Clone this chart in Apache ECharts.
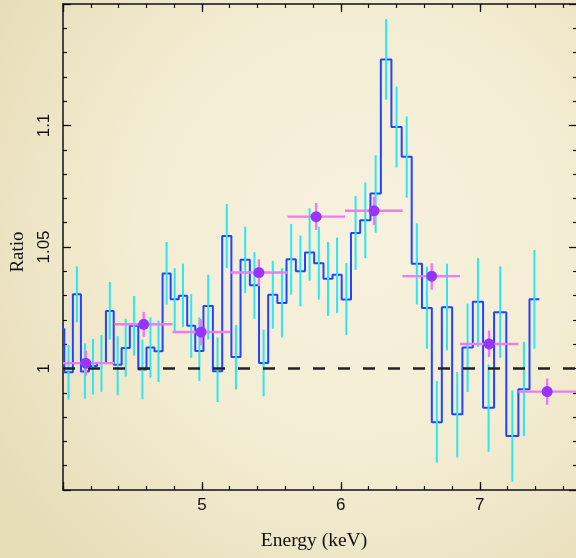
<!DOCTYPE html>
<html>
<head>
<meta charset="utf-8">
<title>Ratio vs Energy</title>
<script src="https://cdn.jsdelivr.net/npm/echarts@6/dist/echarts.min.js"></script>
<style>
  html, body { margin: 0; padding: 0; width: 576px; height: 558px; overflow: hidden; }
  body {
    background: radial-gradient(ellipse 75% 80% at 62% 42%, #f7f2df 0%, #f3edd3 50%, #ece3c3 80%, #e6dcb6 100%);
  }
  #chart { width: 576px; height: 558px; }
</style>
</head>
<body>
<div id="chart"></div>
<script>
// Fine-binned ratio spectrum: bin edges (keV), ratio per bin, and 1-sigma bounds
const binEdges = [3.950, 4.009, 4.071, 4.129, 4.187, 4.245, 4.309, 4.365, 4.422, 4.481, 4.542,
  4.601, 4.658, 4.717, 4.775, 4.833, 4.894, 4.952, 5.011, 5.079, 5.146, 5.212, 5.278, 5.345,
  5.411, 5.477, 5.543, 5.609, 5.676, 5.742, 5.808, 5.875, 5.940, 6.006, 6.073, 6.139, 6.213,
  6.288, 6.364, 6.438, 6.510, 6.584, 6.655, 6.727, 6.801, 6.875, 6.950, 7.024, 7.103, 7.191,
  7.278, 7.358, 7.429];
const binRatio = [1.0163, 0.9985, 1.0306, 0.9988, 1.0010, 1.0023, 1.0237, 1.0015, 1.0084, 1.0176,
  0.9996, 1.0086, 1.0071, 1.0391, 1.0285, 1.0299, 1.0176, 1.0072, 1.0257, 0.9989, 1.0545, 1.0047,
  1.0448, 1.0343, 1.0023, 1.0303, 1.0270, 1.0450, 1.0400, 1.0477, 1.0433, 1.0369, 1.0386, 1.0284,
  1.0558, 1.0610, 1.0720, 1.1272, 1.0994, 1.0871, 1.0431, 1.0249, 0.9779, 1.0252, 0.9812, 1.0086,
  1.0275, 0.9838, 1.0231, 0.9722, 0.9915, 1.0285];
const binLow = [1.0040, 0.9872, 1.0190, 0.9876, 0.9893, 0.9904, 1.0119, 0.9890, 0.9967, 1.0053,
  0.9874, 0.9962, 0.9944, 1.0263, 1.0153, 1.0171, 1.0044, 0.9948, 1.0119, 0.9862, 1.0413, 0.9914,
  1.0310, 1.0204, 0.9886, 1.0163, 1.0128, 1.0304, 1.0256, 1.0361, 1.0283, 1.0217, 1.0228, 1.0138,
  1.0406, 1.0454, 1.0559, 1.1106, 1.0827, 1.0703, 1.0263, 1.0081, 0.9613, 1.0075, 0.9634, 0.9903,
  1.0089, 0.9657, 1.0044, 0.9534, 0.9722, 1.0081];
const binHigh = [1.0290, 1.0096, 1.0420, 1.0103, 1.0122, 1.0138, 1.0356, 1.0133, 1.0205, 1.0298,
  1.0119, 1.0210, 1.0197, 1.0521, 1.0413, 1.0431, 1.0306, 1.0210, 1.0386, 1.0128, 1.0677, 1.0179,
  1.0584, 1.0479, 1.0160, 1.0443, 1.0413, 1.0595, 1.0547, 1.0659, 1.0584, 1.0520, 1.0539, 1.0434,
  1.0710, 1.0766, 1.0878, 1.1438, 1.1161, 1.1038, 1.0598, 1.0420, 0.9948, 1.0431, 0.9986, 1.0267,
  1.0454, 1.0016, 1.0420, 0.9910, 1.0110, 1.0488];

// Coarse-binned ratio points: energy range, centre, ratio and 1-sigma bounds
const groupLo = [3.955, 4.370, 4.788, 5.204, 5.615, 6.030, 6.444, 6.858, 7.278];
const groupHi = [4.370, 4.788, 5.204, 5.615, 6.030, 6.444, 6.858, 7.278, 7.700];
const groupE = [4.164, 4.581, 4.994, 5.410, 5.822, 6.239, 6.654, 7.067, 7.485];
const groupRatio = [1.0022, 1.0182, 1.0150, 1.0395, 1.0625, 1.0649, 1.0380, 1.0101, 0.9905];
const groupLow = [0.9971, 1.0130, 1.0095, 1.0339, 1.0570, 1.0591, 1.0324, 1.0047, 0.9850];
const groupHigh = [1.0073, 1.0233, 1.0203, 1.0450, 1.0681, 1.0707, 1.0433, 1.0156, 0.9959];

// Axis ranges and tick labels
const energyRange = [4.0, 7.7];
const ratioRange = [0.95, 1.15];
const energyTicks = [5, 6, 7];
const energyTickLabels = ['5', '6', '7'];
const ratioTicks = [1.0, 1.05, 1.1];
const ratioTickLabels = ['1', '1.05', '1.1'];
const unityLevel = 1.0;

function pickLabel(ticks, labels) {
  return function (v) {
    for (let i = 0; i < ticks.length; i++) {
      if (Math.abs(v - ticks[i]) < 1e-6) return labels[i];
    }
    return '';
  };
}

// Step outline: each bin level starts at its left edge, last level held to the final edge
const stepData = binRatio.map((r, i) => [binEdges[i], r]);
stepData.push([binEdges[binEdges.length - 1], binRatio[binRatio.length - 1]]);

const binErrData = binRatio.map((r, i) => [(binEdges[i] + binEdges[i + 1]) / 2, binLow[i], binHigh[i]]);
const groupErrData = groupE.map((e, i) => [e, groupRatio[i], groupLo[i], groupHi[i], groupLow[i], groupHigh[i]]);
const groupPointData = groupE.map((e, i) => [e, groupRatio[i]]);

const black = '#111111';
const majorTick = { show: true, inside: true, length: 8, lineStyle: { color: black, width: 1.3 } };
const minorTickStyle = { show: true, inside: true, length: 4, lineStyle: { color: black, width: 1.2 } };

function xAxisDef(position, interval, isMajor, withLabels) {
  return {
    type: 'value', position: position, min: energyRange[0], max: energyRange[1], interval: interval,
    axisLine: { show: isMajor, lineStyle: { color: black, width: 1.5 } },
    axisTick: isMajor ? majorTick : minorTickStyle,
    axisLabel: withLabels ? {
      show: true, formatter: pickLabel(energyTicks, energyTickLabels), margin: 7,
      fontFamily: 'Liberation Sans', fontSize: 17, color: black
    } : { show: false },
    splitLine: { show: false }
  };
}

function yAxisDef(position, withLabels, showLine) {
  return {
    type: 'value', position: position, min: ratioRange[0], max: ratioRange[1], interval: 0.05,
    axisLine: { show: showLine, lineStyle: { color: black, width: 1.5 } },
    axisTick: majorTick,
    minorTick: { show: true, splitNumber: 5, length: 4, lineStyle: { color: black, width: 1.2 } },
    axisLabel: withLabels ? {
      show: true, rotate: 90, margin: 10, formatter: pickLabel(ratioTicks, ratioTickLabels),
      fontFamily: 'Liberation Sans', fontSize: 17, color: black
    } : { show: false },
    splitLine: { show: false },
    minorSplitLine: { show: false }
  };
}

const chart = echarts.init(document.getElementById('chart'), null, { renderer: 'canvas' });

chart.setOption({
  backgroundColor: 'transparent',
  animation: false,
  grid: { left: 63, top: 4, width: 514, height: 486, containLabel: false, outerBoundsMode: 'none' },
  xAxis: [
    xAxisDef('bottom', 1, true, true),
    xAxisDef('bottom', 0.2, false, false),
    xAxisDef('top', 1, true, false),
    xAxisDef('top', 0.2, false, false)
  ],
  yAxis: [
    yAxisDef('left', true, true),
    yAxisDef('right', false, false)
  ],
  graphic: [
    {
      type: 'text', x: 314, y: 541,
      style: { text: 'Energy (keV)', fontFamily: 'Liberation Serif', fontSize: 19.5, fill: black,
               textAlign: 'center', textVerticalAlign: 'middle' }
    },
    {
      type: 'text', x: 18.5, y: 252, rotation: Math.PI / 2,
      style: { text: 'Ratio', fontFamily: 'Liberation Serif', fontSize: 19, fill: black,
               textAlign: 'center', textVerticalAlign: 'middle' }
    }
  ],
  series: [
    {
      name: 'fine bins',
      type: 'line', step: 'end', data: stepData, xAxisIndex: 0, yAxisIndex: 0,
      symbol: 'none', clip: true, z: 2,
      lineStyle: { color: '#2244ff', width: 2 }
    },
    {
      name: 'fine bin errors',
      type: 'custom', data: binErrData, xAxisIndex: 0, yAxisIndex: 0, clip: true, z: 3,
      encode: { x: 0, y: [1, 2] },
      renderItem: function (params, api) {
        const a = api.coord([api.value(0), api.value(1)]);
        const b = api.coord([api.value(0), api.value(2)]);
        return {
          type: 'line',
          shape: { x1: a[0], y1: a[1], x2: b[0], y2: b[1] },
          style: { stroke: '#2de6ef', lineWidth: 2 }
        };
      }
    },
    {
      name: 'unity',
      type: 'line', data: [[energyRange[0], unityLevel], [energyRange[1], unityLevel]],
      xAxisIndex: 0, yAxisIndex: 0, symbol: 'none', z: 4, silent: true,
      lineStyle: { color: '#222222', width: 2.5, type: [12, 13] }
    },
    {
      name: 'coarse bin errors',
      type: 'custom', data: groupErrData, xAxisIndex: 0, yAxisIndex: 0, clip: true, z: 5,
      encode: { x: [0, 2, 3], y: [1, 4, 5] },
      renderItem: function (params, api) {
        const e = api.value(0), r = api.value(1);
        const h1 = api.coord([api.value(2), r]);
        const h2 = api.coord([api.value(3), r]);
        const v1 = api.coord([e, api.value(4)]);
        const v2 = api.coord([e, api.value(5)]);
        const st = { stroke: '#f27af0', lineWidth: 2.4 };
        return {
          type: 'group',
          children: [
            { type: 'line', shape: { x1: h1[0], y1: h1[1], x2: h2[0], y2: h2[1] }, style: st },
            { type: 'line', shape: { x1: v1[0], y1: v1[1], x2: v2[0], y2: v2[1] }, style: st }
          ]
        };
      }
    },
    {
      name: 'coarse bins',
      type: 'scatter', data: groupPointData, xAxisIndex: 0, yAxisIndex: 0, z: 6,
      symbol: 'circle', symbolSize: 11,
      itemStyle: { color: '#9933ff', opacity: 1 }
    }
  ]
});
</script>
</body>
</html>
